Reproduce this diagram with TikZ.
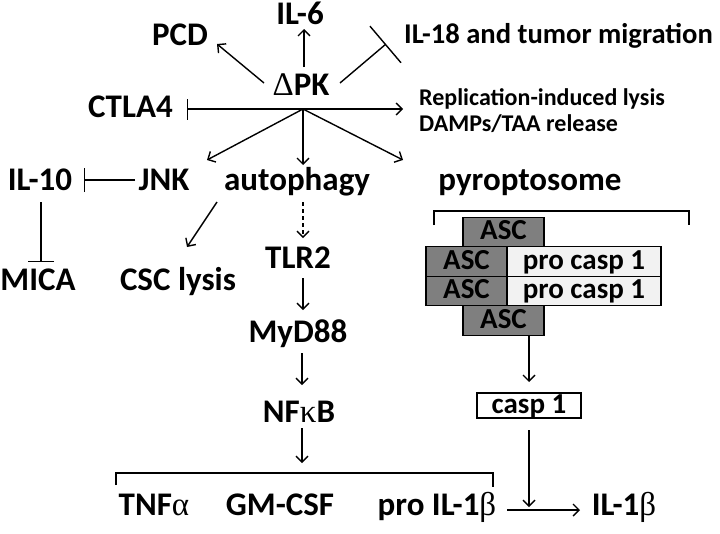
\documentclass[tikz,border=0pt]{standalone}
\usepackage{fontspec}
\setmainfont{Carlito}
\newfontfamily\grk{Liberation Serif}
\newcommand{\gk}[1]{{\grk\mdseries #1}}
\usetikzlibrary{arrows.meta}
\definecolor{ascgray}{HTML}{7F7F7F}
\definecolor{pcgray}{HTML}{F2F2F2}
\begin{document}
\begin{tikzpicture}[x=1pt,y=-1pt,
  ln/.style={line width=1.4pt,draw=black},
  arr/.style={ln,-{Straight Barb[length=6pt,width=12pt,line width=1.4pt]}},
  inh/.style={ln,-{Bar[width=#1,line width=1.4pt]}},
  lbl/.style={font=\fontsize{33}{38}\selectfont\bfseries,inner sep=0pt,anchor=base},
  mid/.style={font=\fontsize{28.6}{32}\selectfont\bfseries,inner sep=0pt,anchor=base west},
  rep/.style={font=\fontsize{24}{28}\selectfont\bfseries,inner sep=0pt,anchor=base west},
  boxtxt/.style={font=\fontsize{29}{30}\selectfont\bfseries,inner sep=0pt,line width=1.4pt,draw=black,
    minimum height=29.5pt,text height=19pt,text depth=4pt},
  ascbox/.style={boxtxt,fill=ascgray,minimum width=81pt},
  pcbox/.style={boxtxt,fill=pcgray,minimum width=154pt},
  caspbox/.style={boxtxt,fill=white,line width=2pt,minimum width=104pt,minimum height=25pt}
]
\useasboundingbox[fill=white] (0,0) rectangle (720,533);

% labels
\node[lbl] (il6) at (300,24) {IL-6};
\node[lbl] (pcd) at (180,45) {PCD};
\node[mid] (il18) at (404,43) {IL-18 and tumor migration};
\node[lbl] (dpk) at (301,95) {\gk{Δ}PK};
\node[lbl,anchor=base east] (ctla4) at (173,117) {CTLA4};
\node[rep] (rep1) at (419,105) {Replication-induced lysis};
\node[rep] (rep2) at (419,131) {DAMPs/TAA release};
\node[lbl] (il10) at (40,190) {IL-10};
\node[lbl] (jnk) at (164,190) {JNK};
\node[lbl] (auto) at (297,190) {autophagy};
\node[lbl] (pyro) at (530,190) {pyroptosome};
\node[lbl] (mica) at (38,290) {MICA};
\node[lbl] (csc) at (178,290) {CSC lysis};
\node[lbl] (tlr2) at (298,268) {TLR2};
\node[lbl] (myd) at (298,342) {MyD88};
\node[lbl] (nfkb) at (299,422) {NF\gk{κ}B};
\node[lbl] (tnf) at (154,515) {TNF\gk{α}};
\node[lbl] (gm) at (280,515) {GM-CSF};
\node[lbl] (pro) at (437,515) {pro IL-1\gk{β}};
\node[lbl] (il1b) at (624,515) {IL-1\gk{β}};

% pyroptosome boxes
\node[ascbox] (asc1) at (503.5,232) {ASC};
\node[ascbox] (asc2) at (466.5,261.5) {ASC};
\node[pcbox] (pc1) at (584,261.5) {pro casp 1};
\node[ascbox] (asc3) at (466.5,291) {ASC};
\node[pcbox] (pc2) at (584,291) {pro casp 1};
\node[ascbox] (asc4) at (503.5,320.5) {ASC};
\node[caspbox] (casp) at (529,405.5) {casp 1};

% connector coordinates
\coordinate (hub) at (303,109);
\coordinate (dpkL) at (264,83);
\coordinate (pcdE) at (217,44);
\coordinate (dpkT) at (304,67);
\coordinate (il6E) at (304,29);
\coordinate (dpkR) at (340,83);
\coordinate (il18E) at (386,44);
\coordinate (ctlaE) at (187,109);
\coordinate (repE) at (403,109);
\coordinate (jnkE) at (207,160);
\coordinate (autoE) at (303,165);
\coordinate (pyroE) at (403,160);
\coordinate (jnkL) at (135,180);
\coordinate (il10E) at (84,180);
\coordinate (il10B) at (41,202);
\coordinate (micaE) at (41,262);
\coordinate (autoL) at (217,202);
\coordinate (cscE) at (187,247);
\coordinate (autoB) at (303,202);
\coordinate (tlrE) at (303,238);
\coordinate (tlrB) at (303,278);
\coordinate (mydE) at (303,310);
\coordinate (mydB) at (302,353);
\coordinate (nfE) at (302,385);
\coordinate (nfB) at (302,428);
\coordinate (brE) at (302,463);
\coordinate (proR) at (507,510);
\coordinate (il1bE) at (580,510);
\coordinate (caspE) at (529,507);

% connectors
\draw[arr] (dpkL) -- (pcdE);
\draw[arr] (dpkT) -- (il6E);
\draw[inh=48pt] (dpkR) -- (il18E);
\draw[inh=21pt] (hub) -- (ctlaE);
\draw[arr] (hub) -- (repE);
\draw[arr] (hub) -- (jnkE);
\draw[arr] (hub) -- (autoE);
\draw[arr] (hub) -- (pyroE);
\draw[inh=24pt] (jnkL) -- (il10E);
\draw[inh=26pt] (il10B) -- (micaE);
\draw[arr] (autoL) -- (cscE);
\draw[arr,dash pattern=on 4pt off 3pt] (autoB) -- (tlrE);
\draw[arr] (tlrB) -- (mydE);
\draw[arr] (mydB) -- (nfE);
\draw[arr] (nfB) -- (brE);
\draw[ln] (116,485) -- (116,473) -- (493,473) -- (493,487);
\draw[ln] (434,225) -- (434,211) -- (689,211) -- (689,225);
\draw[arr] (asc4.south -| casp.north) -- ([yshift=10pt]casp.north);
\draw[arr] ([yshift=-11pt]casp.south) -- (caspE);
\draw[arr] (proR) -- (il1bE);
\end{tikzpicture}
\end{document}
